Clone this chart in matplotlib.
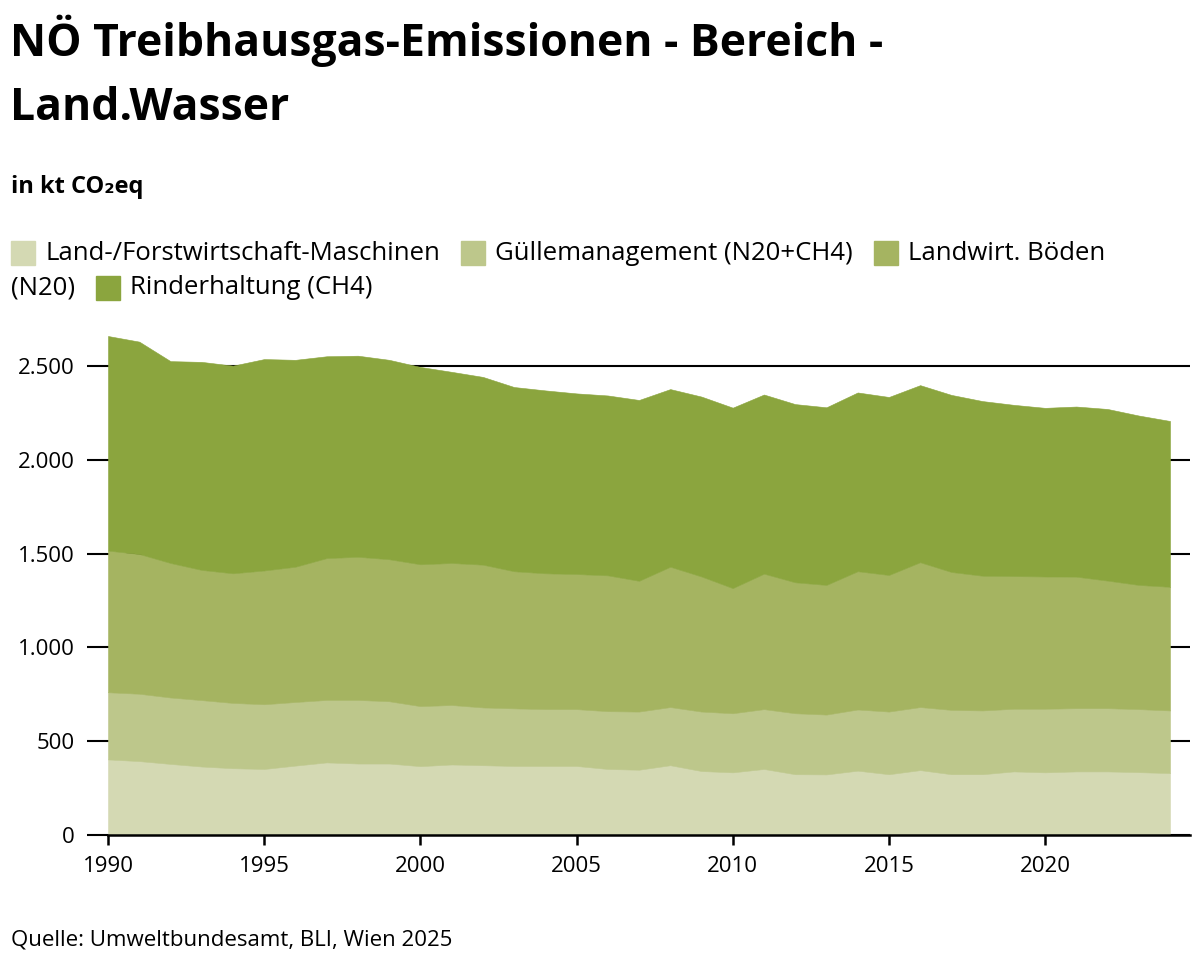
import numpy as np
import matplotlib.pyplot as plt
from matplotlib.patches import Rectangle
from matplotlib.ticker import FuncFormatter

plt.rcParams['font.family'] = ['Open Sans', 'DejaVu Sans']

# Daten (kt CO2eq)
jahre = list(range(1990, 2025))
maschinen = [403, 394, 379, 365, 356, 352, 370, 387, 381, 381,
             367, 376, 372, 368, 368, 368, 352, 348, 372, 341,
             334, 352, 324, 323, 343, 324, 346, 324, 324, 339,
             334, 339, 339, 335, 330]
guelle = [358, 359, 354, 354, 348, 345, 339, 333, 339, 332,
          320, 317, 308, 307, 303, 303, 308, 310, 310, 317,
          315, 319, 325, 319, 326, 334, 336, 343, 340, 334,
          339, 337, 337, 336, 334]
boeden = [755, 745, 717, 694, 691, 713, 721, 756, 763, 757,
          756, 757, 761, 731, 724, 720, 724, 697, 748, 720,
          667, 722, 698, 691, 737, 728, 772, 735, 718, 707,
          705, 701, 680, 662, 659]
rinder = [1144, 1132, 1076, 1109, 1107, 1127, 1103, 1076, 1072, 1063,
          1052, 1019, 1001, 982, 975, 963, 959, 964, 947, 959,
          962, 955, 950, 947, 953, 949, 944, 944, 931, 913,
          899, 907, 915, 903, 884]

labels = ['Land-/Forstwirtschaft-Maschinen', 'Güllemanagement (N20+CH4)',
          'Landwirt. Böden (N20)', 'Rinderhaltung (CH4)']
farben = ['#d4d9b3', '#bdc78b', '#a5b461', '#8ba53e']
y_ticks = [0, 500, 1000, 1500, 2000, 2500]
x_ticks = [1990, 1995, 2000, 2005, 2010, 2015, 2020]

W, H = 1200, 968
fig = plt.figure(figsize=(W / 100, H / 100), dpi=100)


def fx(px):
    return px / W


def fy(py):
    return 1 - py / H


# Achse
ax = fig.add_axes([fx(108), fy(835), fx(1190 - 108), (835 - 328.5) / H])
polys = ax.stackplot(jahre, maschinen, guelle, boeden, rinder, colors=farben,
                     zorder=2)
for p, c in zip(polys, farben):
    p.set_edgecolor(c)
    p.set_linewidth(0.4)
ax.set_xlim(1990, 2024.64)
ax.set_ylim(0, 2700)
ax.set_yticks(y_ticks)
ax.set_xticks(x_ticks)
ax.yaxis.set_major_formatter(FuncFormatter(lambda v, p: f'{int(v):,}'.replace(',', '.')))
ax.grid(axis='y', color='black', linewidth=1.5, zorder=1)
ax.set_axisbelow(True)
for s in ['top', 'right', 'left']:
    ax.spines[s].set_visible(False)
ax.spines['bottom'].set_linewidth(1.8)
ax.spines['bottom'].set_zorder(3)
ax.tick_params(axis='y', length=15, width=1.5, pad=9, labelsize=16)
ax.tick_params(axis='x', length=7, width=1.8, pad=8, labelsize=16)

# Titel
fig.text(fx(10), fy(56), 'NÖ Treibhausgas-Emissionen - Bereich -',
         fontsize=32, fontweight='bold', va='baseline', ha='left')
fig.text(fx(10), fy(120), 'Land.Wasser',
         fontsize=32, fontweight='bold', va='baseline', ha='left')
fig.text(fx(11), fy(193), 'in kt CO₂eq', fontsize=17, fontweight='bold',
         va='baseline', ha='left')
fig.text(fx(11), fy(940), 'Quelle: Umweltbundesamt, BLI, Wien 2025', fontsize=16,
         va='center', ha='left')

# Legende (Fließlayout wie im Original, Umbruch nach "Böden")
renderer = fig.canvas.get_renderer()
zeilen = [[(farben[0], labels[0]), (farben[1], labels[1]), (farben[2], 'Landwirt. Böden')],
          [(None, '(N20)'), (farben[3], labels[3])]]
zeile_y = [253, 288]
for zeile, yy in zip(zeilen, zeile_y):
    x = 11
    for farbe, txt in zeile:
        if farbe is not None:
            fig.patches.append(Rectangle((fx(x), fy(yy + 12)), fx(24), 24 / H,
                                         transform=fig.transFigure, color=farbe))
            x += 34
        t = fig.text(fx(x), fy(yy), txt, fontsize=18.5, va='center', ha='left')
        bb = t.get_window_extent(renderer)
        x += bb.width + 21

fig.savefig('out.png', dpi=100)
